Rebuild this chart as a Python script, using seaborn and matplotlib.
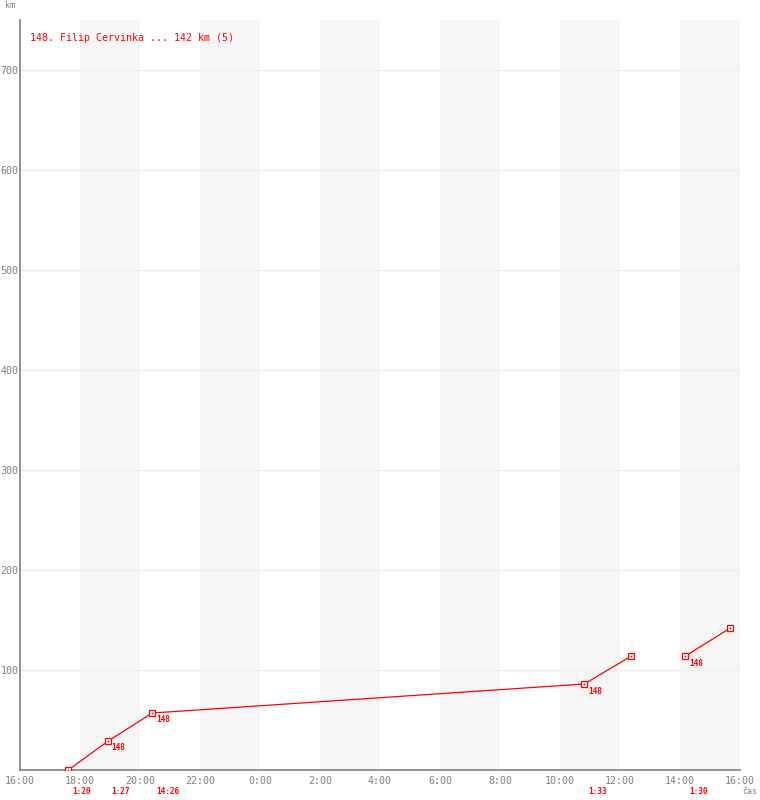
import numpy as np
import pandas as pd
import matplotlib
matplotlib.use("Agg")
import matplotlib.pyplot as plt
import seaborn as sns

# Zeitachse in Stunden ab 0:00 des ersten Tages (16:00 -> 16, 16:00 nächster Tag -> 40)
hodiny = [17.61, 18.94, 20.41, 34.81, 36.38, 38.18, 39.68]
km = [0, 29, 57, 86, 114, 114, 142]
useky = [0, 0, 0, 0, 0, 1, 1]          # Lücke zwischen 12:23 und 14:11
cislo_popis = ["", "148", "148", "148", "", "148", ""]
casy_popis = ["1:20", "1:27", "14:26", "1:33", "", "1:30", ""]

tick_hodiny = list(range(16, 41, 2))
tick_popis = [f"{h % 24}:00" for h in tick_hodiny]
y_ticks = [100, 200, 300, 400, 500, 600, 700]
titulek = "148. Filip Cervinka ... 142 km (5)"

CERVENA = "#ff0000"
SEDA = "#808080"

sns.set_style("white")
plt.rcParams["font.family"] = ["DejaVu Sans Mono", "DejaVu Sans"]

df = pd.DataFrame({"hod": hodiny, "km": km, "usek": useky})

fig = plt.figure(figsize=(7.6, 8), dpi=100)
ax = fig.add_axes([20 / 760, 30 / 800, 720 / 760, 750 / 800])

# graue Streifen jede zweite Doppelstunde
for h in tick_hodiny[1:-1:2]:
    ax.axvspan(h, h + 2, color="#f6f6f6", lw=0, zorder=0)

for y in y_ticks:
    ax.axhline(y, color="#ececec", lw=0.8, zorder=0.5)

sns.lineplot(data=df, x="hod", y="km", units="usek", estimator=None,
             color=CERVENA, lw=0.9, marker="s", markersize=4.5,
             markerfacecolor="white", markeredgecolor=CERVENA,
             markeredgewidth=0.9, ax=ax, zorder=3)
sns.scatterplot(data=df, x="hod", y="km", color=CERVENA, s=1.5,
                linewidth=0, ax=ax, zorder=4)

for h, k, t in zip(hodiny, km, cislo_popis):
    if t:
        ax.annotate(t, xy=(h, k), xytext=(3.5, -7), textcoords="offset pixels",
                    ha="left", va="center", fontsize=5.6, color=CERVENA,
                    fontweight="bold")

for h, t in zip(hodiny, casy_popis):
    if t:
        ax.annotate(t, xy=(h, 0), xycoords=("data", "axes fraction"),
                    xytext=(3.5, -22), textcoords="offset pixels",
                    ha="left", va="center", fontsize=5.6, color=CERVENA,
                    fontweight="bold", annotation_clip=False)

ax.set_xlim(16, 40)
ax.set_ylim(0, 750)
ax.set_xticks(tick_hodiny)
ax.set_xticklabels(tick_popis)
ax.set_yticks(y_ticks)
ax.tick_params(axis="both", length=0, labelsize=7.2, labelcolor=SEDA)
ax.tick_params(axis="x", pad=4)
ax.tick_params(axis="y", pad=1)
ax.set_xlabel("")
ax.set_ylabel("")

for s in ["top", "right"]:
    ax.spines[s].set_visible(False)
for s in ["left", "bottom"]:
    ax.spines[s].set_color(SEDA)
    ax.spines[s].set_linewidth(1.2)

ax.text(10 / 720, 732 / 750, titulek, transform=ax.transAxes, fontsize=7.2,
        color=CERVENA, ha="left", va="center")
fig.text(5 / 760, 1 - 6 / 800, "km", fontsize=6, color=SEDA,
         ha="left", va="center")
fig.text(742 / 760, 1 - 792 / 800, "čas", fontsize=6, color=SEDA,
         ha="left", va="center")

fig.savefig("out.png", dpi=100)
